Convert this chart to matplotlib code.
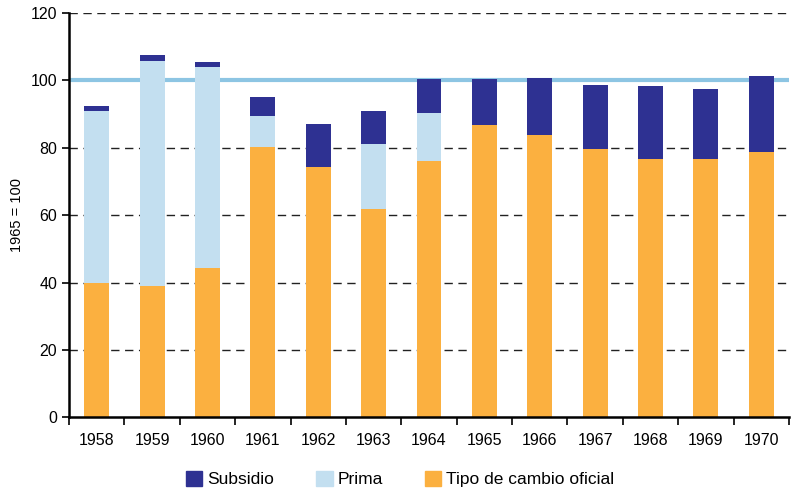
import numpy as np
import matplotlib.pyplot as plt
from matplotlib.patches import Patch

plt.rcParams["font.family"] = ["Liberation Sans", "DejaVu Sans"]

# ------------------------------------------------------
# Data (1965 = 100)
# ------------------------------------------------------
years = ["1958", "1959", "1960", "1961", "1962", "1963", "1964",
         "1965", "1966", "1967", "1968", "1969", "1970"]
tipo_cambio = [39.8, 39.0, 44.3, 80.2, 74.3, 61.9, 76.1,
               86.9, 83.9, 79.7, 76.6, 76.8, 78.7]
prima = [51.2, 66.8, 59.6, 9.3, 0.0, 19.1, 14.1,
         0.0, 0.0, 0.0, 0.0, 0.0, 0.0]
subsidio = [1.5, 1.6, 1.5, 5.7, 12.7, 10.0, 10.2,
            13.5, 16.8, 19.0, 21.8, 20.6, 22.5]
reference_level = 100

c_sub = "#2e3192"
c_prima = "#c3dff0"
c_tipo = "#fbb040"

x = np.arange(len(years))
tipo = np.array(tipo_cambio)
pri = np.array(prima)
sub = np.array(subsidio)

fig = plt.figure(figsize=(7.94, 4.91), dpi=100)
ax = fig.add_axes([0.0869, 0.1497, 0.9068, 0.8238])

# dashed grid
for yv in [20, 40, 60, 80, 120]:
    ax.axhline(yv, color="#222222", lw=1.0, ls=(0, (6, 4)), zorder=1)

ax.axhline(reference_level, color="#8dc5e3", lw=3.0, zorder=1.5)

w = 0.45
ax.bar(x, tipo, w, color=c_tipo, zorder=2)
ax.bar(x, pri, w, bottom=tipo, color=c_prima, zorder=2)
ax.bar(x, sub, w, bottom=tipo + pri, color=c_sub, zorder=2)

ax.set_xlim(-0.5, len(years) - 0.5)
ax.set_ylim(0, 120)
ax.set_yticks(range(0, 121, 20))
ax.tick_params(axis="y", labelsize=11.5, length=5, width=1.2, direction="out")

ax.set_xticks(x)
ax.set_xticklabels(years, fontsize=11.5)
ax.set_xticks(np.arange(-0.5, len(years)), minor=True)
ax.tick_params(axis="x", which="major", length=0, pad=11)
ax.tick_params(axis="x", which="minor", length=6, width=1.2, direction="out")

for s in ["top", "right"]:
    ax.spines[s].set_visible(False)
ax.spines["left"].set_linewidth(1.8)
ax.spines["bottom"].set_linewidth(1.8)

ax.set_ylabel("1965 = 100", fontsize=10.5, labelpad=5)

handles = [Patch(color=c_sub, label="Subsidio"),
           Patch(color=c_prima, label="Prima"),
           Patch(color=c_tipo, label="Tipo de cambio oficial")]
fig.legend(handles=handles, loc="center", bbox_to_anchor=(0.504, 0.024),
           ncol=3, frameon=False, fontsize=12.5, handlelength=0.95,
           handleheight=0.95, handletextpad=0.3, columnspacing=2.4)

plt.savefig("out.png", dpi=100)
